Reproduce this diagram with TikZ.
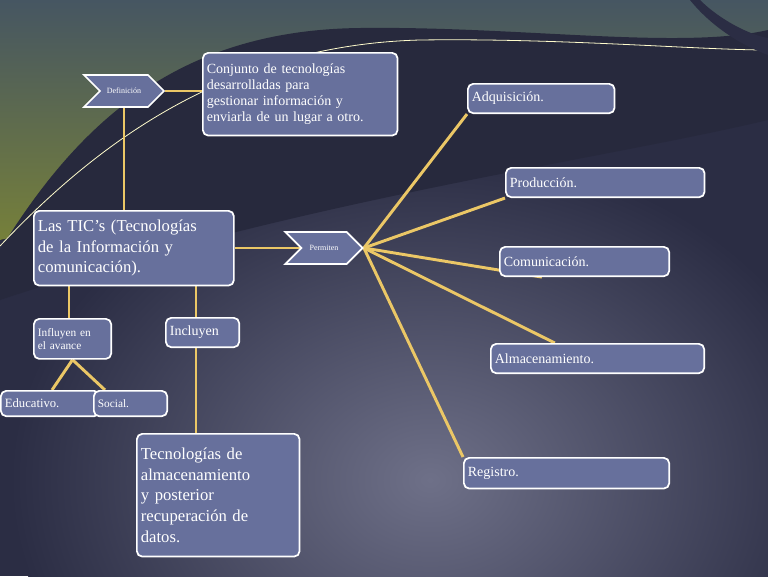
\documentclass[tikz,border=0pt]{standalone}
\usepackage{fontspec}
\setmainfont{Liberation Serif}
\usetikzlibrary{positioning,shapes.symbols,backgrounds}
\definecolor{boxfill}{HTML}{67709C}
\definecolor{link}{HTML}{EBC766}
\definecolor{navy}{HTML}{2B2D44}
\definecolor{mist}{HTML}{6E7088}
\begin{document}
\begin{tikzpicture}[x=0.75pt,y=-0.75pt,
	box/.style={draw=white,line width=1.3pt,fill=boxfill,text=white,rounded corners=4pt,anchor=north west,align=left,inner sep=3pt},
	tag/.style={signal,signal to=east,signal from=west,draw=white,line width=1.3pt,fill=boxfill,text=white,font=\fontsize{6}{7}\selectfont,minimum height=24pt,inner sep=2pt},
	link/.style={draw=link,line width=2.2pt}]
	\useasboundingbox (0,0) rectangle (768,576);
	% nodes
	\node[tag,minimum width=60pt] at (124,91) (def) {Definición};
	\node[box,text width=140pt,minimum height=62pt,font=\fontsize{10.5}{12}\selectfont] at (202,52) (conj) {Conjunto de tecnologías\\desarrolladas para\\gestionar información y\\enviarla de un lugar a otro.};
	\node[box,text width=144pt,minimum height=56pt,font=\fontsize{12.5}{15.5}\selectfont] at (33,210) (tic) {Las TIC’s (Tecnologías\\de la Información y\\comunicación).};
	\node[tag,minimum width=58pt] at (324,248) (perm) {Permiten};
	\node[box,text width=104pt,minimum height=22pt,font=\fontsize{10.5}{12}\selectfont] at (467,83) (adq) {Adquisición.};
	\node[box,text width=143pt,minimum height=22pt,font=\fontsize{10.5}{12}\selectfont] at (505,167) (prod) {Producción.};
	\node[box,text width=121pt,minimum height=22pt,font=\fontsize{10.5}{12}\selectfont] at (499,246) (com) {Comunicación.};
	\node[box,text width=154pt,minimum height=22pt,font=\fontsize{10.5}{12}\selectfont] at (490,343) (alm) {Almacenamiento.};
	\node[box,text width=148pt,minimum height=23pt,font=\fontsize{10.5}{12}\selectfont] at (463,457) (reg) {Registro.};
	\node[box,text width=52pt,minimum height=30pt,font=\fontsize{8.5}{10}\selectfont] at (33,318) (inf) {Influyen en\\el avance};
	\node[box,text width=49pt,minimum height=22pt,font=\fontsize{10.5}{12}\selectfont] at (165,317) (inc) {Incluyen};
	\node[box,text width=68pt,minimum height=19pt,font=\fontsize{9.5}{11}\selectfont] at (0,390) (edu) {Educativo.};
	\node[box,text width=49pt,minimum height=19pt,font=\fontsize{8.5}{10}\selectfont] at (93,390) (soc) {Social.};
	\node[box,text width=116pt,minimum height=92pt,font=\fontsize{12.5}{15.5}\selectfont] at (136,433) (tec) {Tecnologías de\\almacenamiento\\y posterior\\recuperación de\\datos.};
	\begin{pgfonlayer}{background}
	% background
	\begin{scope}
	\clip (0,0) rectangle (768,576);
	\fill[navy] (0,0) rectangle (768,576);
	\shade[inner color=mist,outer color=navy] (430,480) ellipse (420 and 330);
	\fill[top color={rgb,255:red,70;green,86;blue,98},bottom color={rgb,255:red,118;green,128;blue,58}] (0,0) -- (768,0) -- (768,60) -- (0,240) -- cycle;
	\fill[navy!90!black] (0,250) .. controls (80,120) and (180,30) .. (360,28) .. controls (520,26) and (680,50) .. (768,30) -- (768,120) .. controls (600,160) and (300,200) .. (0,300) -- cycle;
	\draw[white!80!yellow,line width=0.6pt] (0,246) .. controls (100,140) and (230,45) .. (420,40) .. controls (560,38) and (700,50) .. (768,50);
	\fill[navy] (700,0) .. controls (720,20) and (750,35) .. (768,38) -- (768,55) .. controls (740,45) and (710,25) .. (690,0) -- cycle;
	\end{scope}
	% connectors
	\path[link]
	(def.east) edge (conj.west |- def.east)
	(def.south) edge (def.south |- tic.north)
	(tic.east |- perm.west) edge (perm.west)
	(perm.east) edge (adq.south west)
	(perm.east) edge (prod.south west)
	(perm.east) edge (com.200)
	(perm.east) edge (alm.160)
	(perm.east) edge (reg.north west)
	(inf.north -| 69,0) edge (69,0 |- tic.south)
	(inc.north -| 196,0) edge (196,0 |- tic.south)
	(inc.south -| 196,0) edge (196,0 |- tec.north)
	(inf.south) edge (edu.north -| 52,0)
	(inf.south) edge (soc.north -| 105,0);
	\end{pgfonlayer}
\end{tikzpicture}
\end{document}
